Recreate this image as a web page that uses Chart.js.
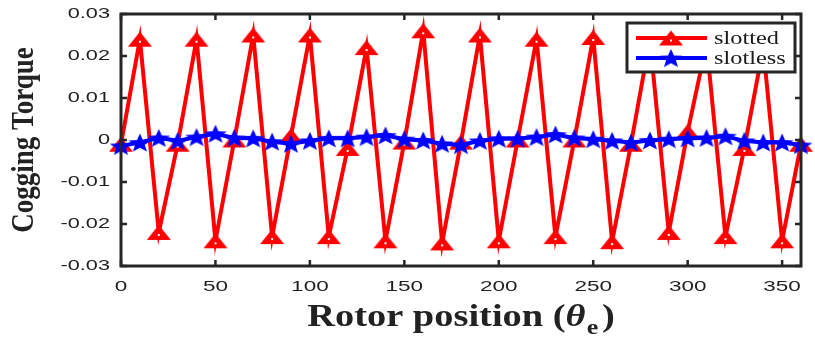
<!DOCTYPE html>
<html>
<head>
<meta charset="utf-8">
<script src="https://cdn.jsdelivr.net/npm/chart.js@4"></script>
<style>
  html, body { margin: 0; padding: 0; background: #fff; }
  #wrap { width: 815px; height: 337px; }
</style>
</head>
<body>
<div id="wrap"><canvas id="torque"></canvas></div>
<script>
// rotor position (electrical degrees)
var posicoes = [0, 10, 20, 30, 40, 50, 60, 70, 80, 90, 100, 110, 120, 130, 140, 150, 160, 170, 180,
                190, 200, 210, 220, 230, 240, 250, 260, 270, 280, 290, 300, 310, 320, 330, 340, 350, 360];

var slotted = [-0.001, 0.024, -0.022, -0.001, 0.024, -0.024, 0.000, 0.025, -0.023, 0.001,
               0.025, -0.023, -0.002, 0.022, -0.024, -0.0005, 0.026, -0.0245, -0.0005, 0.025,
               -0.024, 0.000, 0.024, -0.023, 0.000, 0.0244, -0.0242, -0.001, 0.024, -0.022,
               0.002, 0.023, -0.023, -0.002, 0.022, -0.024, -0.001];

var slotless = [-0.0014, -0.0006, 0.0005, -0.0002, 0.0007, 0.0015, 0.0005, 0.0004, -0.0004, -0.0009,
                -0.0002, 0.0004, 0.0004, 0.0007, 0.0011, 0.0002, -0.0001, -0.0009, -0.0012, -0.0002,
                0.0003, 0.0003, 0.0007, 0.0013, 0.0005, 0.0002, -0.0002, -0.0006, -0.0001, 0.0002,
                0.0004, 0.0005, 0.0009, -0.0002, -0.0006, -0.0006, -0.0012];

var xTicks = [0, 50, 100, 150, 200, 250, 300, 350];
var yTicks = [-0.03, -0.02, -0.01, 0, 0.01, 0.02, 0.03];
var yLabels = ["-0.03", "-0.02", "-0.01", "0", "0.01", "0.02", "0.03"];
var nomes = ["slotted", "slotless"];

// marcadores desenhados a mao (triangulo e estrela largos, como no original)
function marcador_triangulo(cor) {
  var c = document.createElement("canvas");
  c.width = 26; c.height = 17;
  var g = c.getContext("2d");
  g.fillStyle = cor;
  g.beginPath();
  g.moveTo(13, 1); g.lineTo(25, 16); g.lineTo(1, 16); g.closePath();
  g.fill();
  g.fillStyle = "#fff";
  g.fillRect(12, 10, 2, 2);
  return c;
}

function marcador_estrela(cor) {
  var c = document.createElement("canvas");
  c.width = 24; c.height = 19;
  var g = c.getContext("2d");
  g.fillStyle = cor;
  g.beginPath();
  for (var i = 0; i < 10; i++) {
    var r = (i % 2 == 0) ? 1 : 0.42;
    var a = -Math.PI / 2 + i * Math.PI / 5;
    var px = 12 + Math.cos(a) * 12 * r;
    var py = 10.5 + Math.sin(a) * 10 * r;
    if (i == 0) g.moveTo(px, py); else g.lineTo(px, py);
  }
  g.closePath();
  g.fill();
  return c;
}

var triVermelho = marcador_triangulo("#ff0000");
var estrelaAzul = marcador_estrela("#0000ff");

function texto_esticado(ctx, txt, x, y, sx, align) {
  ctx.save();
  ctx.translate(x, y);
  ctx.scale(sx, 1);
  ctx.textAlign = align;
  ctx.fillText(txt, 0, 0);
  ctx.restore();
}

// moldura, ticks para dentro, rotulos, titulos e legenda
var moldura = {
  id: "moldura",
  afterDatasetsDraw: function (chart) {
    var ctx = chart.ctx;
    var a = chart.chartArea;
    var sx = chart.scales.x, sy = chart.scales.y;
    ctx.save();
    ctx.strokeStyle = "#262626";
    ctx.lineWidth = 3;
    ctx.strokeRect(a.left, a.top, a.right - a.left, a.bottom - a.top);
    ctx.lineWidth = 2.5;
    ctx.beginPath();
    xTicks.forEach(function (v) {
      var px = sx.getPixelForValue(v);
      ctx.moveTo(px, a.bottom); ctx.lineTo(px, a.bottom - 6);
      ctx.moveTo(px, a.top); ctx.lineTo(px, a.top + 6);
    });
    yTicks.forEach(function (v) {
      var py = sy.getPixelForValue(v);
      ctx.moveTo(a.left, py); ctx.lineTo(a.left + 6, py);
      ctx.moveTo(a.right, py); ctx.lineTo(a.right - 6, py);
    });
    ctx.stroke();

    // tick labels
    ctx.fillStyle = "#1f1f1f";
    ctx.font = "14px 'Liberation Sans', Arial, sans-serif";
    ctx.textBaseline = "middle";
    yTicks.forEach(function (v, i) {
      texto_esticado(ctx, yLabels[i], a.left - 11, sy.getPixelForValue(v), 1.55, "right");
    });
    ctx.font = "15px 'Liberation Sans', Arial, sans-serif";
    ctx.textBaseline = "top";
    xTicks.forEach(function (v) {
      texto_esticado(ctx, String(v), sx.getPixelForValue(v), a.bottom + 13, 1.5, "center");
    });

    // titulos
    ctx.fillStyle = "#222";
    ctx.textBaseline = "alphabetic";
    ctx.font = "bold 27px 'Liberation Serif', 'Times New Roman', serif";
    ctx.save();
    ctx.translate(33, 140);
    ctx.rotate(-Math.PI / 2);
    ctx.scale(1, 1.15);
    ctx.textAlign = "center";
    ctx.fillText("Cogging Torque", 0, 0);
    ctx.restore();

    var cx = (a.left + a.right) / 2;
    var fonte = "bold 31px 'Liberation Serif', 'Times New Roman', serif";
    var fonteIt = "bold italic 31px 'Liberation Serif', 'Times New Roman', serif";
    var fonteSub = "bold 21px 'Liberation Serif', 'Times New Roman', serif";
    var t1 = "Rotor position (";
    ctx.font = fonte;
    var w1 = ctx.measureText(t1).width;
    ctx.font = fonteIt;
    var w2 = ctx.measureText("\u03b8").width;
    ctx.font = fonteSub;
    var w3 = ctx.measureText("e").width;
    ctx.font = fonte;
    var w4 = ctx.measureText(")").width;
    var esc = 1.24;
    var total = (w1 + w2 + w3 + w4 + 4) * esc;
    ctx.save();
    ctx.translate(cx - total / 2, 326);
    ctx.scale(esc, 1);
    ctx.textAlign = "left";
    ctx.fillText(t1, 0, 0);
    ctx.font = fonteIt;
    ctx.fillText("\u03b8", w1, 0);
    ctx.font = fonteSub;
    ctx.fillText("e", w1 + w2 + 1, 8);
    ctx.font = fonte;
    ctx.fillText(")", w1 + w2 + w3 + 4, 0);
    ctx.restore();

    // legenda
    var lx = 627, ly = 23, lw = 168, lh = 49;
    ctx.fillStyle = "#fff";
    ctx.fillRect(lx, ly, lw, lh);
    ctx.strokeStyle = "#262626";
    ctx.lineWidth = 3;
    ctx.strokeRect(lx, ly, lw, lh);
    var linhas = [
      { cor: "#ff0000", img: triVermelho, y: 38 },
      { cor: "#0000ff", img: estrelaAzul, y: 58 }
    ];
    linhas.forEach(function (l, i) {
      ctx.strokeStyle = l.cor;
      ctx.lineWidth = 4;
      ctx.beginPath();
      ctx.moveTo(636, l.y); ctx.lineTo(707, l.y);
      ctx.stroke();
      ctx.drawImage(l.img, 671 - l.img.width / 2, l.y - l.img.height / 2);
      ctx.fillStyle = "#1a1a1a";
      ctx.font = "19px 'Liberation Serif', 'Times New Roman', serif";
      ctx.textBaseline = "middle";
      texto_esticado(ctx, nomes[i], 714, l.y + 1, 1.28, "left");
    });
    ctx.restore();
  }
};

var ctx = document.getElementById("torque");

var myChart = new Chart(ctx, {
  type: "line",
  data: {
    datasets: [
      {
        label: nomes[0],
        data: posicoes.map(function (p, i) { return { x: p, y: slotted[i] }; }),
        borderColor: "#ff0000",
        backgroundColor: "#ff0000",
        borderWidth: 4,
        pointStyle: triVermelho,
        pointRadius: 10,
        tension: 0,
        clip: false,
        order: 2
      },
      {
        label: nomes[1],
        data: posicoes.map(function (p, i) { return { x: p, y: slotless[i] }; }),
        borderColor: "#0000ff",
        backgroundColor: "#0000ff",
        borderWidth: 4,
        pointStyle: estrelaAzul,
        pointRadius: 10,
        tension: 0,
        clip: false,
        order: 1
      }
    ]
  },
  options: {
    responsive: true,
    maintainAspectRatio: false,
    animation: false,
    layout: { padding: { top: 13, right: 3, left: 0, bottom: 0 } },
    plugins: { legend: { display: false }, tooltip: { enabled: false } },
    scales: {
      x: {
        type: "linear",
        min: 0,
        max: 360,
        grid: { display: false },
        border: { display: false },
        ticks: { display: false },
        afterFit: function (s) { s.height = 71; }
      },
      y: {
        min: -0.03,
        max: 0.03,
        grid: { display: false },
        border: { display: false },
        ticks: { display: false },
        afterFit: function (s) { s.width = 121; }
      }
    }
  },
  plugins: [moldura]
});
</script>
</body>
</html>
